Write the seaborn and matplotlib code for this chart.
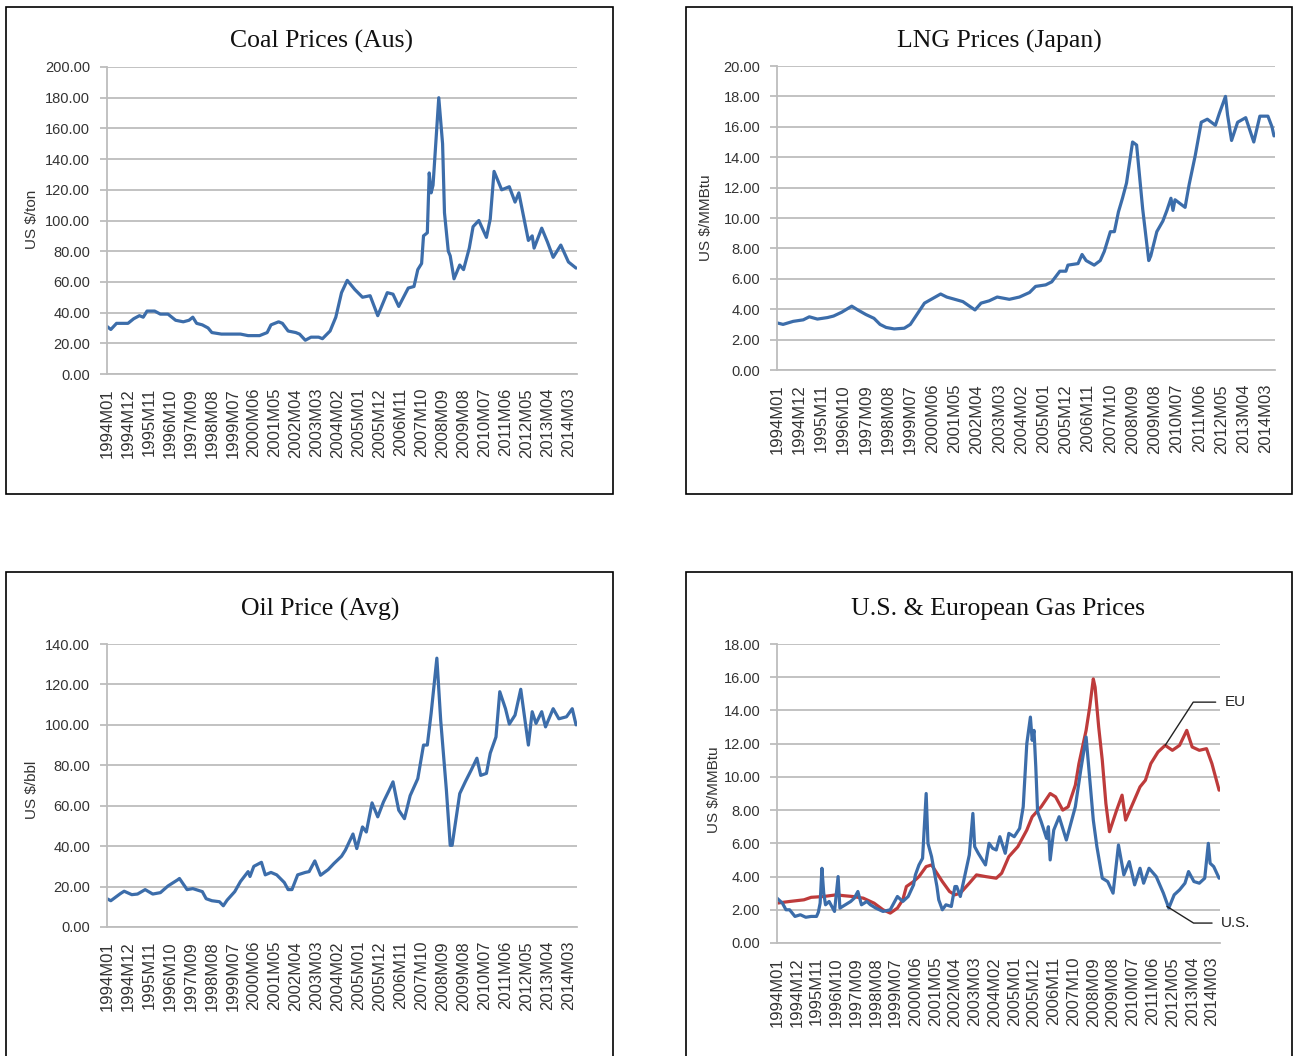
import matplotlib

matplotlib.use("Agg")
import matplotlib.pyplot as plt
import pandas as pd
import seaborn as sns
from matplotlib.patches import Rectangle

W, H = 1296, 1056

# category axis labels (every 11th month, as in the source workbook)
tick_labels = [
    "1994M01", "1994M12", "1995M11", "1996M10", "1997M09", "1998M08",
    "1999M07", "2000M06", "2001M05", "2002M04", "2003M03", "2004M02",
    "2005M01", "2005M12", "2006M11", "2007M10", "2008M09", "2009M08",
    "2010M07", "2011M06", "2012M05", "2013M04", "2014M03",
]

# x values are months since 1994M01
coal_month = [0, 2, 5, 11, 14, 17, 19, 21, 25, 28, 32, 33, 36, 40, 43, 45, 47, 50,
              53, 55, 60, 70, 74, 80, 84, 86, 90, 92, 95, 99, 101, 104, 107, 111,
              113, 117, 120, 123, 126, 130, 134, 138, 142, 147, 150, 153, 158, 161,
              163, 165, 166, 168, 169, 170, 171, 174, 176, 177, 179, 180, 182, 185,
              187, 190, 192, 195, 199, 201, 203, 207, 211, 214, 216, 221, 223, 224,
              228, 231, 234, 238, 242, 246]
coal_price = [31, 29, 33, 33, 36, 38, 37, 41, 41, 39, 39, 38, 35, 34, 35, 37, 33, 32,
              30, 27, 26, 26, 25, 25, 27, 32, 34, 33, 28, 27, 26, 22, 24, 24,
              23, 28, 37, 53, 61, 55, 50, 51, 38, 53, 52, 44, 56, 57,
              68, 72, 90, 92, 131, 118, 123, 180, 150, 105, 80, 77, 62, 71,
              68, 82, 96, 100, 89, 101, 132, 120, 122, 112, 118, 87, 90, 82,
              95, 86, 76, 84, 73, 69]

lng_month = [0, 3, 8, 13, 16, 20, 25, 28, 32, 37, 40, 44, 48, 51, 54, 58, 63, 66, 70,
             73, 77, 81, 84, 88, 92, 98, 101, 105, 109, 115, 120, 125, 128, 133, 136,
             140, 143, 144, 149, 151, 153, 157, 160, 162, 165, 167, 169, 171, 173,
             176, 178, 181, 184, 185, 188, 191, 193, 195, 196, 197, 202, 204, 207,
             210, 213, 217, 219, 222, 223, 225, 228, 232, 236, 239, 243, 245, 246]
lng_price = [3.1, 3.0, 3.2, 3.3, 3.5, 3.35, 3.45, 3.55, 3.8, 4.2, 3.95, 3.65, 3.4, 3.0,
             2.8, 2.7, 2.75, 3.0, 3.8, 4.4, 4.7, 5.0, 4.8, 4.65, 4.5, 3.95, 4.4, 4.55,
             4.8, 4.65, 4.8, 5.1, 5.5, 5.6, 5.8, 6.5, 6.5, 6.9, 7.0, 7.6, 7.2, 6.9,
             7.2, 7.8, 9.1, 9.1, 10.4, 11.3, 12.3, 15.0, 14.8, 10.6, 7.2, 7.5, 9.1,
             9.8, 10.5, 11.3, 10.5, 11.2, 10.7, 12.2, 14.1, 16.3, 16.5, 16.1, 16.9,
             18.0, 16.8, 15.1, 16.3, 16.6, 15.0, 16.7, 16.7, 16.0, 15.4]

oil_month = [0, 2, 7, 9, 13, 16, 20, 24, 28, 32, 37, 38, 42, 45, 50, 52, 55, 59, 61,
             63, 67, 70, 74, 75, 77, 81, 83, 86, 89, 93, 95, 97, 100, 104, 106, 109,
             112, 116, 119, 123, 125, 129, 131, 134, 136, 139, 142, 145, 148, 150,
             153, 156, 159, 163, 166, 168, 170, 173, 175, 178, 180, 181, 185, 188,
             191, 194, 196, 199, 201, 204, 206, 209, 211, 214, 217, 221, 223, 225,
             228, 230, 234, 237, 241, 244, 246]
oil_price = [14, 13, 16.5, 17.7, 16, 16.3, 18.5, 16.3, 17, 20.3, 23.3, 24, 18.5, 19,
             17.5, 14, 13, 12.5, 10.5, 13.3, 17.5, 22.5, 27.4, 25, 30, 32, 25.8, 27,
             25.8, 22, 18.5, 18.5, 25.8, 27, 27.4, 32.7, 25.6, 28.4, 31.4, 35, 38,
             46, 38.8, 49.5, 47, 61.4, 54.5, 61.9, 67.7, 71.8, 57.8, 53.6, 65, 73.4,
             90, 90, 105.7, 133, 102.4, 67.7, 40.4, 40.4, 66, 72, 77.6, 83.5, 75, 76,
             86, 94, 116.4, 108, 100.4, 104.8, 117.6, 90, 106.5, 100.7, 106.5, 99,
             108, 103, 104, 108, 100]

us_month = [0, 3, 5, 7, 10, 13, 16, 19, 22, 23, 24, 25, 26, 27, 29, 31, 32, 34, 35,
            38, 41, 43, 45, 47, 50, 52, 55, 59, 63, 65, 67, 70, 73, 76, 77, 79, 81,
            83, 84, 86, 89, 90, 92, 94, 97, 99, 100, 102, 105, 107, 109, 110, 112,
            116, 118, 120, 122, 124, 127, 129, 132, 135, 137, 139, 141, 142, 143,
            144, 145, 147, 150, 151, 152, 154, 157, 161, 164, 166, 169, 172, 174,
            176, 178, 181, 184, 187, 190, 193, 196, 199, 202, 204, 207, 211, 215,
            218, 221, 224, 227, 229, 232, 235, 238, 240, 241, 243, 246]
us_price = [2.7, 2.4, 2.0, 2.0, 1.6, 1.7, 1.55, 1.6, 1.6, 1.85, 2.4, 4.5, 3.0, 2.3,
            2.5, 2.1, 1.9, 4.0, 2.1, 2.3, 2.5, 2.7, 3.1, 2.3, 2.5, 2.3, 2.1, 1.9, 2.0,
            2.4, 2.8, 2.5, 2.8, 3.5, 4.1, 4.7, 5.1, 9.0, 6.0, 5.2, 3.4, 2.6, 2.0, 2.3,
            2.2, 3.4, 3.4, 2.8, 4.3, 5.3, 7.8, 5.8, 5.4, 4.7, 6.0, 5.7, 5.6, 6.4, 5.4,
            6.6, 6.4, 6.9, 8.2, 12.0, 13.6, 12.2, 12.8, 10.6, 7.9, 7.3, 6.3, 7.0, 5.0,
            6.8, 7.6, 6.2, 7.4, 8.2, 10.4, 12.4, 9.9, 7.4, 5.8, 3.9, 3.7, 3.0, 5.9,
            4.1, 4.9, 3.5, 4.5, 3.6, 4.5, 4.0, 3.0, 2.1, 2.9, 3.2, 3.6, 4.3, 3.7, 3.6,
            3.9, 6.0, 4.8, 4.6, 3.9]

eu_month = [0, 7, 15, 19, 26, 33, 37, 42, 48, 54, 59, 63, 67, 70, 72, 76, 79, 83, 86,
            89, 92, 96, 99, 102, 107, 111, 116, 122, 125, 129, 134, 139, 142, 147,
            152, 155, 159, 162, 166, 168, 172, 174, 176, 177, 179, 181, 183, 185,
            189, 192, 194, 198, 202, 205, 208, 212, 216, 220, 224, 228, 231, 235,
            239, 242, 246]
eu_price = [2.4, 2.5, 2.6, 2.75, 2.8, 2.9, 2.85, 2.8, 2.7, 2.4, 2.0, 1.8, 2.1, 2.6,
            3.4, 3.7, 4.0, 4.6, 4.7, 4.2, 3.7, 3.1, 2.9, 3.0, 3.6, 4.1, 4.0, 3.9, 4.2,
            5.2, 5.8, 6.8, 7.6, 8.2, 9.0, 8.8, 8.0, 8.2, 9.5, 10.8, 12.8, 14.2, 15.9,
            15.4, 13.0, 11.0, 8.4, 6.7, 8.0, 8.9, 7.4, 8.4, 9.4, 9.8, 10.8, 11.5,
            11.9, 11.6, 11.9, 12.8, 11.8, 11.6, 11.7, 10.8, 9.2]

BLUE = "#3C6DAA"
RED = "#BE3B3B"
GRID = "#BDBDBD"


def month_index(label):
    y, m = label.split("M")
    return (int(y) - 1994) * 12 + int(m) - 1


def px(left, top, right, bottom):
    return [left / W, 1 - bottom / H, (right - left) / W, (bottom - top) / H]


sns.set_style("white")
plt.rcParams["font.family"] = ["Liberation Sans", "DejaVu Sans"]

fig = plt.figure(figsize=(W / 100, H / 100), dpi=100)


def panel(rect, box, title, title_xy, ylabel, ylabel_xy, ymax, ystep, series):
    ax = fig.add_axes(px(*rect))
    for months, values, color in series:
        df = pd.DataFrame({"month": months, "price": values})
        sns.lineplot(data=df, x="month", y="price", color=color, lw=2.3, ax=ax)
    ax.set_xlim(0, 246.5)
    ax.set_ylim(0, ymax)
    ax.set_yticks([ystep * i for i in range(int(round(ymax / ystep)) + 1)])
    ax.yaxis.set_major_formatter(matplotlib.ticker.FormatStrFormatter("%.2f"))
    ax.set_xticks([month_index(t) for t in tick_labels])
    ax.set_xticklabels(tick_labels, rotation=90, fontsize=12, color="#333333")
    ax.tick_params(axis="y", labelsize=10.5, labelcolor="#333333", length=5,
                   color=GRID, width=1.3, direction="out", left=True, pad=7)
    ax.tick_params(axis="x", length=0, pad=10)
    ax.yaxis.grid(True, color=GRID, lw=1.3)
    ax.set_axisbelow(True)
    for s in ("top", "right"):
        ax.spines[s].set_visible(False)
    for s in ("left", "bottom"):
        ax.spines[s].set_color(GRID)
        ax.spines[s].set_linewidth(1.3)
    ax.set_xlabel("")
    ax.set_ylabel("")
    l, t, r, b = box
    fig.add_artist(Rectangle((l / W, 1 - b / H), (r - l) / W, (b - t) / H,
                             transform=fig.transFigure, fill=False,
                             edgecolor="black", lw=1.2))
    fig.text(title_xy[0] / W, 1 - title_xy[1] / H, title, ha="center", va="center",
             fontsize=18.5, family=["Liberation Serif", "DejaVu Serif"], color="#111111")
    fig.text(ylabel_xy[0] / W, 1 - ylabel_xy[1] / H, ylabel, rotation=90,
             ha="center", va="center", fontsize=11, color="#333333")
    return ax


panel((107, 67, 577, 374), (6, 7, 613, 494), "Coal Prices (Aus)", (321, 41),
      "US $/ton", (32, 219), 200, 20, [(coal_month, coal_price, BLUE)])
panel((777, 66, 1275, 370), (686, 7, 1292, 494), "LNG Prices (Japan)", (999, 41),
      "US $/MMBtu", (706, 218), 20, 2, [(lng_month, lng_price, BLUE)])
panel((107, 644, 577, 927), (6, 572, 613, 1062), "Oil Price (Avg)", (320, 609),
      "US $/bbl", (32, 790), 140, 20, [(oil_month, oil_price, BLUE)])
ax4 = panel((777, 644, 1220, 943), (686, 572, 1292, 1062),
            "U.S. & European Gas Prices", (998, 609), "US $/MMBtu", (714, 790),
            18, 2, [(eu_month, eu_price, RED), (us_month, us_price, BLUE)])

ax4.annotate("EU", xy=(216, 11.9), xytext=(249, 14.5), ha="left", va="center",
             fontsize=11, color="#222222", annotation_clip=False,
             arrowprops=dict(arrowstyle="-", color="#222222", lw=1,
                             shrinkA=4, shrinkB=0,
                             connectionstyle="angle,angleA=0,angleB=57,rad=0"))
ax4.annotate("U.S.", xy=(217, 2.2), xytext=(247, 1.2), ha="left", va="center",
             fontsize=11, color="#222222", annotation_clip=False,
             arrowprops=dict(arrowstyle="-", color="#222222", lw=1,
                             shrinkA=4, shrinkB=0,
                             connectionstyle="angle,angleA=0,angleB=-32,rad=0"))

fig.savefig("out.png", dpi=100)
